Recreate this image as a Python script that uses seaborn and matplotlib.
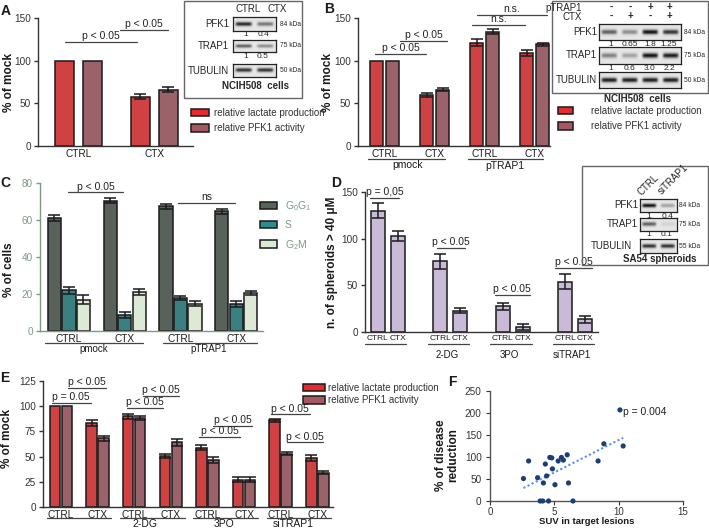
import numpy as np
import pandas as pd
import matplotlib
matplotlib.use("Agg")
import matplotlib.pyplot as plt
from matplotlib.patches import Patch, Rectangle
import seaborn as sns

# ---------------- data ----------------
measures = ["relative lactate production", "relative PFK1 activity"]

# A: NCIH508, CTRL vs CTX
a_cond = ["CTRL", "CTX"]
a_lactate = [100, 58]
a_lactate_err = [0, 3.5]
a_pfk1 = [100, 66]
a_pfk1_err = [0, 3]

# B: pmock / pTRAP1
b_group = ["pmock", "pmock", "pTRAP1", "pTRAP1"]
b_cond = ["CTRL", "CTX", "CTRL", "CTX"]
b_lactate = [100, 60, 121, 109]
b_lactate_err = [0, 2, 4, 3]
b_pfk1 = [100, 66, 134, 119]
b_pfk1_err = [0, 2, 3, 2]

# C: cell cycle
c_group = ["pmock", "pmock", "pTRAP1", "pTRAP1"]
c_cond = ["CTRL", "CTX", "CTRL", "CTX"]
c_phases = ["G0G1", "S", "G2M"]
c_g0g1 = [61, 70.5, 67.3, 64.7]
c_g0g1_err = [1.5, 1.2, 1.2, 1.5]
c_s = [22, 8.6, 17.8, 14.8]
c_s_err = [1.8, 1.5, 1.3, 1.6]
c_g2m = [17, 21, 14.8, 20.6]
c_g2m_err = [2.2, 1.8, 1.2, 1.2]

# D: spheroids
d_treat = ["none", "2-DG", "3PO", "siTRAP1"]
d_cond = ["CTRL", "CTX"]
d_ctrl = [130, 76, 27.5, 54]
d_ctrl_err = [8, 8, 4, 8]
d_ctx = [103, 23, 5.5, 13.5]
d_ctx_err = [5, 3, 3, 3.5]

# E: treatments, lactate / PFK1
e_group = ["none", "none", "2-DG", "2-DG", "3PO", "3PO", "siTRAP1", "siTRAP1"]
e_cond = ["CTRL", "CTX"] * 4
e_lactate = [100, 83, 90, 51, 59, 27, 86, 48.5]
e_lactate_err = [0, 3, 2.5, 2, 2.5, 2.5, 1.5, 3]
e_pfk1 = [100, 68, 88, 64, 47, 27, 53, 34]
e_pfk1_err = [0, 2.5, 2, 3, 3, 2.5, 1.5, 1.5]

# F: SUV vs disease reduction
f_suv = [2.6, 3.0, 3.7, 3.9, 4.1, 4.15, 4.3, 4.4, 4.55, 4.65, 4.8, 4.85,
         5.05, 5.3, 5.55, 5.7, 6.0, 6.1, 6.45, 8.4, 8.85, 10.1, 10.35]
f_red = [51, 91, 53, 0, 0, 41, 84, 57, 0, 99, 98, 73,
         37, 91, 99, 93, 105, 41, 0, 91, 130, 207, 125]

# blot densitometry (lane darkness)
blotA = {"PFK1": [0.85, 0.5], "TRAP1": [0.6, 0.4], "TUBULIN": [0.8, 0.8]}
blotB = {"PFK1": [0.6, 0.4, 0.95, 0.8], "TRAP1": [0.45, 0.3, 0.95, 0.9],
         "TUBULIN": [0.9, 0.9, 0.9, 0.9]}
blotD = {"PFK1": [0.95, 0.3], "TRAP1": [0.6, 0.08], "TUBULIN": [0.8, 0.8]}
kda = {"PFK1": "84 kDa", "TRAP1": "75 kDa", "TUBULIN": "50 kDa"}

RED = "#e8292d"
MAUVE = "#a65862"
C_COLORS = ["#56645a", "#2f8b8d", "#d9ecd2"]
LAV = "#c9b5dc"
INK = "#1a1a1a"
GREY = "#333333"
CGREEN = "#7c9a84"
FS = 7

W, H = 709, 529

sns.set_style("ticks")
plt.rcParams["font.family"] = ["Liberation Sans", "DejaVu Sans"]
plt.rcParams["mathtext.fontset"] = "custom"
plt.rcParams["mathtext.rm"] = "Liberation Sans"
plt.rcParams["axes.linewidth"] = 1.0

fig = plt.figure(figsize=(W / 100, H / 100), dpi=100)


def px_axes(box):
    x0, y0, x1, y1 = box
    return fig.add_axes([x0 / W, 1 - y1 / H, (x1 - x0) / W, (y1 - y0) / H])


def ft(x, y, s, **kw):
    kw.setdefault("ha", "center")
    kw.setdefault("va", "center")
    return fig.text(x / W, 1 - y / H, s, **kw)


def ay(box, ypx):
    return (box[3] - ypx) / (box[3] - box[1])


def ax_x(box, xpx):
    return (xpx - box[0]) / (box[2] - box[0])


def dodge_x(n_cat, n_hue, width):
    slot = width / n_hue
    return [[i - width / 2 + slot * (j + 0.5) for i in range(n_cat)] for j in range(n_hue)]


def style_axes(ax, color=GREY):
    sns.despine(ax=ax)
    for s in ["left", "bottom"]:
        ax.spines[s].set_color(color)
    ax.tick_params(axis="y", length=3, width=1, pad=2, labelsize=FS + 0.2, colors=color)
    ax.tick_params(axis="x", length=0, pad=2, labelsize=FS + 0.2, colors=INK)
    ax.set_xlabel("")


def ylabel(ax, box, s, right_px, ymid_px=None, fs=8.5):
    ax.set_ylabel(s, fontsize=fs, fontweight="bold", color=INK)
    ym = 0.5 if ymid_px is None else ay(box, ymid_px)
    ax.yaxis.set_label_coords(ax_x(box, right_px), ym)


def bracket(ax, x0, x1, y, text, fs=FS + 0.5):
    ax.plot([x0, x1], [y, y], color="#444444", lw=0.9, clip_on=False)
    ax.annotate(text, ((x0 + x1) / 2, y), xytext=(0, 0.5), textcoords="offset points",
                ha="center", va="bottom", fontsize=fs, color="#222222", annotation_clip=False)


def group_line(ax, box, x0, x1, ypx, color="#444444"):
    ax.plot([x0, x1], [ay(box, ypx)] * 2, color=color, lw=0.9, clip_on=False,
            transform=ax.get_xaxis_transform())


def group_text(ax, box, x, ypx, s, fs=FS + 0.5, color=INK):
    ax.text(x, ay(box, ypx), s, transform=ax.get_xaxis_transform(), ha="center",
            va="center", fontsize=fs, color=color, clip_on=False)


def bars(ax, keys, hue_names, series, errs, palette, width, gap):
    rows = []
    for hname, vals in zip(hue_names, series):
        for k, v in zip(keys, vals):
            rows.append({"key": k, "hue": hname, "value": v})
    df = pd.DataFrame(rows)
    sns.barplot(data=df, x="key", y="value", hue="hue", order=keys, hue_order=hue_names,
                palette=palette, width=width, gap=gap, edgecolor=INK, linewidth=1.1,
                errorbar=None, legend=False, ax=ax)
    xs = dodge_x(len(keys), len(hue_names), width)
    for j, (vals, ee) in enumerate(zip(series, errs)):
        for x, v, e in zip(xs[j], vals, ee):
            if e > 0:
                ax.errorbar([x], [v], yerr=[e], fmt="none", ecolor=INK, elinewidth=1.1,
                            capthick=1.1, capsize=4)
    return xs


def blot(box, levels):
    ax = px_axes(box)
    n = len(levels)
    rows, lw = 24, 40
    yy = np.linspace(-1, 1, rows)
    xx = np.linspace(-1, 1, lw)
    prof = np.exp(-(yy / 0.3) ** 2)
    lane = np.exp(-(xx / 0.78) ** 8)
    img = np.full((rows, lw * n), 0.9)
    for k, lv in enumerate(levels):
        img[:, k * lw:(k + 1) * lw] -= lv * 0.88 * np.outer(prof, lane)
    ax.imshow(img, cmap="gray", vmin=0, vmax=1, aspect="auto", extent=(0, 1, 0, 1))
    ax.set_xticks([])
    ax.set_yticks([])
    for s in ax.spines.values():
        s.set_linewidth(0.9)
        s.set_color("#222222")
    return ax


def frame(x0, y0, x1, y1):
    fig.add_artist(Rectangle((x0 / W, 1 - y1 / H), (x1 - x0) / W, (y1 - y0) / H,
                             transform=fig.transFigure, fill=False, ec="#666666", lw=1.0))


def legend(handles, labels, x, y, spacing, hl, pad, fs=FS, color="#333333"):
    fig.legend(handles, labels, loc="upper left", bbox_to_anchor=(x / W, 1 - y / H),
               frameon=False, fontsize=fs, handlelength=hl, handleheight=0.75,
               handletextpad=pad, labelspacing=spacing, borderpad=0, borderaxespad=0,
               labelcolor=color)


pair_handles = [Patch(facecolor=RED, edgecolor=INK, lw=1.1),
                Patch(facecolor=MAUVE, edgecolor=INK, lw=1.1)]

# ---------------- panel A ----------------
boxA = (38, 18, 193, 146)
axA = px_axes(boxA)
bars(axA, a_cond, measures, [a_lactate, a_pfk1], [a_lactate_err, a_pfk1_err],
     [RED, MAUVE], 0.74, 0.32)
style_axes(axA)
axA.set_xlim(-0.53, 1.51)
axA.set_ylim(0, 150)
axA.set_yticks([0, 50, 100, 150])
ylabel(axA, boxA, "% of mock", 15)
bracket(axA, -0.18, 0.77, 122, "p < 0.05")
bracket(axA, 0.55, 1.18, 136, "p < 0.05")
legend(pair_handles, measures, 191, 108, 0.55, 1.9, 0.45)

frame(184, 1, 302, 98)
ft(248, 9, "CTRL", fontsize=FS)
ft(277, 9, "CTX", fontsize=FS)
for (name, lv), (yt, yb), nums in zip(blotA.items(), [(17, 31), (40, 52), (64, 77)],
                                       [["1", "0.4"], ["1", "0.5"], None]):
    blot((233, yt, 276, yb), lv)
    ft(229, (yt + yb) / 2, name, fontsize=FS, ha="right")
    ft(280, (yt + yb) / 2, kda[name], fontsize=4.8, ha="left")
    if nums:
        for xn, s in zip([246, 263], nums):
            ft(xn, yb + 4, s, fontsize=6)
ft(255, 86, "NCIH508  cells", fontsize=FS, fontweight="bold")

# ---------------- panel B ----------------
boxB = (358, 18, 550, 146)
axB = px_axes(boxB)
b_keys = [g + c for g, c in zip(b_group, b_cond)]
bars(axB, b_keys, measures, [b_lactate, b_pfk1], [b_lactate_err, b_pfk1_err],
     [RED, MAUVE], 0.64, 0.16)
style_axes(axB)
axB.set_xticks(range(len(b_keys)))
axB.set_xticklabels(b_cond)
axB.set_xlim(-0.53, 3.31)
axB.set_ylim(0, 150)
axB.set_yticks([0, 50, 100, 150])
ylabel(axB, boxB, "% of mock", 334)
bracket(axB, -0.19, 0.83, 108, "p < 0.05")
bracket(axB, 0.31, 1.25, 123, "p < 0.05")
bracket(axB, 1.74, 2.81, 142, "n.s.")
bracket(axB, 1.84, 3.24, 153.5, "n.s.")
group_line(axB, boxB, -0.33, 1.21, 159)
group_line(axB, boxB, 1.67, 3.17, 159)
group_text(axB, boxB, 0.47, 165, "pmock")
group_text(axB, boxB, 2.4, 166, "pTRAP1")

frame(552, 1, 708, 93)
ft(582, 8, "pTRAP1", fontsize=FS, ha="right")
ft(582, 17, "CTX", fontsize=FS, ha="right")
lanesB = [611, 630, 650, 669]
for xl, s1, s2 in zip(lanesB, ["-", "-", "+", "+"], ["-", "+", "-", "+"]):
    ft(xl, 7, s1, fontsize=7, fontweight="bold")
    ft(xl, 16, s2, fontsize=7, fontweight="bold")
for (name, lv), (yt, yb), nums in zip(blotB.items(), [(24, 40), (47, 64), (72, 88)],
                                       [["1", "0.65", "1.8", "1.25"], ["1", "0.6", "3.0", "2.2"], None]):
    blot((599, yt, 681, yb), lv)
    ft(597, (yt + yb) / 2, name, fontsize=FS, ha="right")
    ft(684, (yt + yb) / 2, kda[name], fontsize=4.8, ha="left")
    if nums:
        for xn, s in zip(lanesB, nums):
            ft(xn, yb + 4, s, fontsize=6)
ft(637, 99, "NCIH508  cells", fontsize=FS, fontweight="bold")
legend(pair_handles, measures, 558, 106, 0.55, 1.55, 1.85)

# ---------------- panel C ----------------
boxC = (40, 183, 263, 331)
axC = px_axes(boxC)
c_keys = [g + c for g, c in zip(c_group, c_cond)]
bars(axC, c_keys, c_phases, [c_g0g1, c_s, c_g2m], [c_g0g1_err, c_s_err, c_g2m_err],
     C_COLORS, 0.78, 0.1)
style_axes(axC, color=CGREEN)
axC.set_xticks(range(len(c_keys)))
axC.set_xticklabels(c_cond)
axC.set_xlim(-0.52, 3.48)
axC.set_ylim(0, 80)
axC.set_yticks([0, 20, 40, 60, 80])
ylabel(axC, boxC, "% of cells", 15, 270)
bracket(axC, -0.02, 0.97, 75, "p < 0.05")
bracket(axC, 1.96, 2.98, 69.4, "ns")
group_line(axC, boxC, -0.43, 1.33, 343)
group_line(axC, boxC, 1.69, 3.38, 343)
group_text(axC, boxC, 0.45, 349, "pmock", fs=FS)
group_text(axC, boxC, 2.5, 349, "pTRAP1", fs=FS)
c_handles = [Patch(facecolor=c, edgecolor=INK, lw=1.1) for c in C_COLORS]
legend(c_handles, [r"$\mathregular{G_0G_1}$", "S", r"$\mathregular{G_2M}$"], 260, 199, 0.72,
       1.6, 0.8, fs=7.5, color=CGREEN)

# ---------------- panel D ----------------
boxD = (365, 192, 598, 332)
axD = px_axes(boxD)
xsD = bars(axD, d_treat, d_cond, [d_ctrl, d_ctx], [d_ctrl_err, d_ctx_err],
           [LAV, LAV], 0.64, 0.3)
style_axes(axD)
axD.set_xticks(xsD[0] + xsD[1])
axD.set_xticklabels(["CTRL"] * 4 + ["CTX"] * 4, fontsize=6)
axD.set_xlim(-0.36, 3.36)
axD.set_ylim(0, 150)
axD.set_yticks([0, 50, 100, 150])
ylabel(axD, boxD, "n. of spheroids > 40 μM", 338)
bracket(axD, -0.28, 0.18, 144, "p = 0,05")
bracket(axD, 0.79, 1.24, 90, "p < 0.05")
bracket(axD, 1.71, 2.27, 40, "p < 0.05")
bracket(axD, 2.67, 3.27, 69, "p < 0.05")
for i, name in enumerate(d_treat):
    group_line(axD, boxD, i - 0.36, i + 0.3, 344)
    if i > 0:
        group_text(axD, boxD, i - 0.05, 355, name, fs=FS)

frame(582, 166, 708, 265)
ft(643, 197, "CTRL", fontsize=FS, rotation=45, ha="left", va="bottom", rotation_mode="anchor")
ft(663, 196, "siTRAP1", fontsize=FS, rotation=45, ha="left", va="bottom", rotation_mode="anchor")
for (name, lv), (yt, yb), nums in zip(blotD.items(), [(199, 212), (218, 231), (239, 253)],
                                       [["1", "0.4"], ["1", "0.1"], None]):
    blot((640, yt, 677, yb), lv)
    ft(638 if name != "TUBULIN" else 632, (yt + yb) / 2, name, fontsize=FS, ha="right")
    ft(679, (yt + yb) / 2, "55 kDa" if name == "TUBULIN" else kda[name], fontsize=4.8,
       ha="left")
    if nums:
        for xn, s in zip([649, 667], nums):
            ft(xn, yb + 4, s, fontsize=6)
ft(660, 259, "SA54 spheroids", fontsize=FS, fontweight="bold")

# ---------------- panel E ----------------
boxE = (43, 381, 333, 507)
axE = px_axes(boxE)
e_keys = [g + c for g, c in zip(e_group, e_cond)]
bars(axE, e_keys, measures, [e_lactate, e_pfk1], [e_lactate_err, e_pfk1_err],
     [RED, MAUVE], 0.656, 0.12)
style_axes(axE)
axE.set_xticks(range(len(e_keys)))
axE.set_xticklabels(e_cond)
axE.set_xlim(-0.49, 7.43)
axE.set_ylim(0, 125)
axE.set_yticks([0, 25, 50, 75, 100, 125])
ylabel(axE, boxE, "% of mock", 13, 438)
bracket(axE, -0.25, 0.81, 103.5, "p = 0.05")
bracket(axE, 0.2, 1.23, 118.4, "p < 0.05")
bracket(axE, 1.8, 2.8, 98.5, "p < 0.05")
bracket(axE, 2.25, 3.22, 110, "p < 0.05")
bracket(axE, 3.78, 4.89, 69.8, "p < 0.05")
bracket(axE, 4.16, 5.21, 80.4, "p < 0.05")
bracket(axE, 5.73, 6.8, 92, "p < 0.05")
bracket(axE, 6.17, 7.17, 64.2, "p < 0.05")
for k, (name, xc) in enumerate(zip(["", "2-DG", "3PO", "siTRAP1"], [0.5, 2.3, 4.45, 6.35])):
    group_line(axE, boxE, 2 * k - 0.38, 2 * k + 1.38, 518)
    if name:
        group_text(axE, boxE, xc, 524, name)
legend(pair_handles, measures, 303, 383, 0.25, 2.3, 0.25)

# ---------------- panel F ----------------
boxF = (490, 391, 683, 501)
axF = px_axes(boxF)
dfF = pd.DataFrame({"suv": f_suv, "reduction": f_red})
sns.regplot(data=dfF, x="suv", y="reduction", scatter=False, ci=None, truncate=True,
            line_kws=dict(color="#5b8ee6", lw=1.5, ls=(0, (1, 1.2))), ax=axF)
sns.scatterplot(data=dfF, x="suv", y="reduction", color="#1c3d78", s=14, edgecolor="none",
                ax=axF, clip_on=False, zorder=3)
sns.despine(ax=axF)
for s in ["left", "bottom"]:
    axF.spines[s].set_color("#555555")
axF.set_xlim(0, 15)
axF.set_ylim(0, 250)
axF.set_xticks([0, 5, 10, 15])
axF.set_yticks([0, 50, 100, 150, 200, 250])
axF.tick_params(axis="y", length=3, pad=3, labelsize=FS + 0.2, colors="#333333")
axF.tick_params(axis="x", length=3, pad=1, labelsize=FS, colors="#333333")
axF.set_xlabel("SUV in target lesions", fontsize=6.8, fontweight="bold", color=INK)
axF.xaxis.set_label_coords(0.5, ay(boxF, 517))
axF.set_ylabel("% of disease\nreduction", fontsize=8.5, fontweight="bold", color=INK,
               linespacing=0.95)
axF.yaxis.set_label_coords(ax_x(boxF, 459), ay(boxF, 455))
ft(645, 412, "p = 0.004", fontsize=FS + 0.5, color="#222222")

# panel letters
for letter, x, y in [("A", 6, 11), ("B", 329, 9), ("C", 5, 183), ("D", 336, 183),
                     ("E", 5, 378), ("F", 452, 382)]:
    ft(x, y, letter, fontsize=10, fontweight="bold", color=INK)

fig.savefig("out.png", dpi=100)
